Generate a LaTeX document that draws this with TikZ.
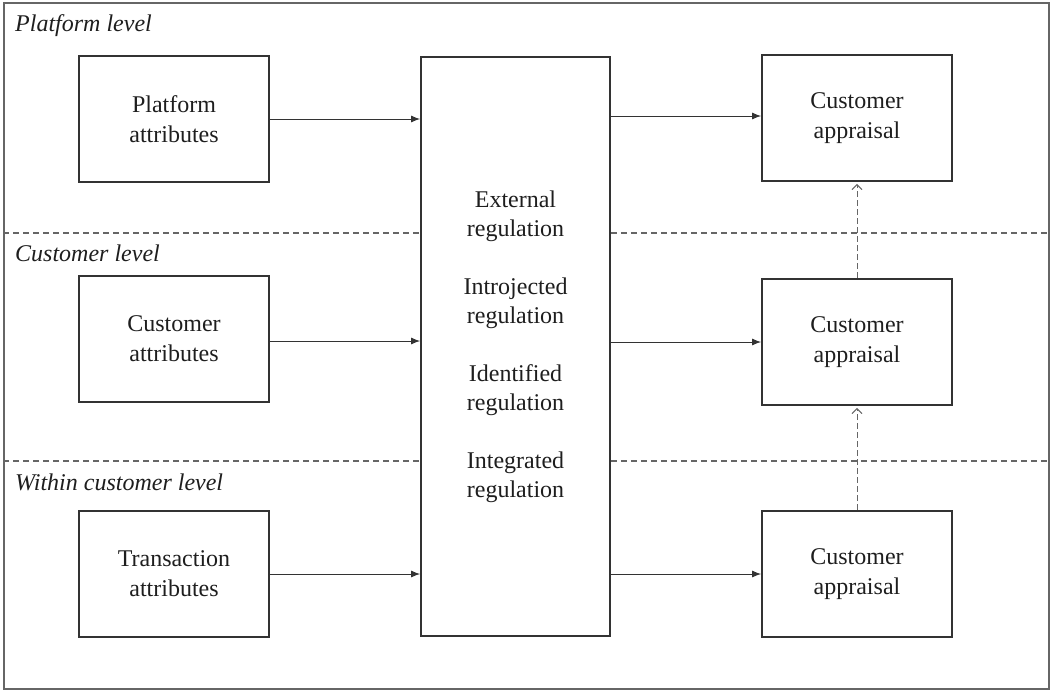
\documentclass[tikz,border=0pt]{standalone}
\usepackage{fontspec}
\setmainfont{Liberation Serif}
\usetikzlibrary{arrows.meta}
\definecolor{boxline}{HTML}{333333}
\definecolor{txt}{HTML}{1E1E1E}
\definecolor{dashgray}{HTML}{666666}
\tikzset{
  box/.style={draw=boxline, line width=1.7pt, minimum width=190pt, minimum height=126pt,
    align=center, inner sep=0pt, text=txt, font=\fontsize{24}{30}\selectfont},
  lvl/.style={anchor=base west, inner sep=0pt, text=txt, font=\fontsize{24}{29}\selectfont\itshape},
  arr/.style={draw=boxline, line width=1pt, -{Latex[length=9pt,width=7pt]}},
  darr/.style={draw=dashgray, line width=1pt, dash pattern=on 6pt off 3pt, -{Straight Barb[length=5pt,width=10pt]}, shorten >=2pt},
  sep/.style={draw=dashgray, line width=1.2pt, dash pattern=on 6pt off 4pt},
}
\begin{document}
\begin{tikzpicture}[x=1pt,y=-1pt]
\useasboundingbox (0,0) rectangle (1050,691);
\node[draw=dashgray, line width=1.5pt, minimum width=1045pt, minimum height=686pt, inner sep=0pt] (frame) at (526.5,346) {};

% level labels
\node[lvl] (l1) at (15,31) {Platform level};
\node[lvl] (l2) at (15,261) {Customer level};
\node[lvl] (l3) at (15,490) {Within customer level};

% left column
\node[box] (pa) at (174,119) {Platform\\attributes};
\node[box] (ca) at (174,339) {Customer\\attributes};
\node[box] (ta) at (174,574) {Transaction\\attributes};

% central box
\node[box, minimum width=189pt, minimum height=579pt, font=\fontsize{24}{29}\selectfont] (cen) at (515.5,346.5)
  {External\\regulation\\[29pt]Introjected\\regulation\\[29pt]Identified\\regulation\\[29pt]Integrated\\regulation};

% right column
\node[box] (r1) at (857,118) {Customer\\appraisal};
\node[box] (r2) at (857,342) {Customer\\appraisal};
\node[box] (r3) at (857,574) {Customer\\appraisal};

% separators
\coordinate (s1) at (0,233);
\coordinate (s2) at (0,461);
\draw[sep] (frame.west |- s1) -- (cen.west |- s1);
\draw[sep] (cen.east |- s1) -- (frame.east |- s1);
\draw[sep] (frame.west |- s2) -- (cen.west |- s2);
\draw[sep] (cen.east |- s2) -- (frame.east |- s2);

% arrows in
\draw[arr] (pa.east) -- (pa.east -| cen.west);
\draw[arr] (ca.east |- 0,341) -- (cen.west |- 0,341);
\draw[arr] (ta.east) -- (ta.east -| cen.west);

% arrows out
\draw[arr] (cen.east |- 0,116) -- (r1.west |- 0,116);
\draw[arr] (cen.east |- r2.west) -- (r2.west);
\draw[arr] (cen.east |- r3.west) -- (r3.west);

% dashed upward arrows
\draw[darr] (r2.north) -- (r1.south);
\draw[darr] (r3.north) -- (r2.south);
\end{tikzpicture}
\end{document}
